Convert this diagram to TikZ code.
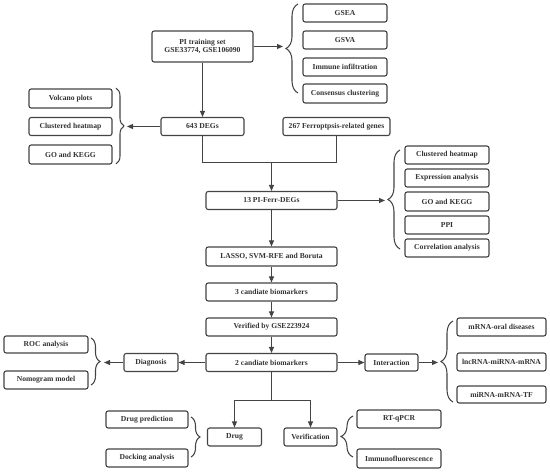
\documentclass[tikz,border=0pt]{standalone}
\usepackage{fontspec}
\setmainfont{Liberation Serif}
\usetikzlibrary{arrows.meta,decorations.pathreplacing,calc}
\definecolor{boxline}{HTML}{444444}
\definecolor{txt}{HTML}{333333}
\begin{document}
\begin{tikzpicture}[x=1pt,y=-1pt,
  bx/.style={draw=boxline,line width=1.1pt,rounded corners=2.2pt,fill=white,inner sep=0pt,
     font=\fontsize{7.6}{8.9}\selectfont\bfseries,text=txt,align=center},
  wd/.style={minimum width=#1},
  ht/.style={minimum height=#1},
  conn/.style={draw=boxline,line width=1.05pt},
  arr/.style={conn,-{Triangle[length=6pt,width=5pt]}},
  brc/.style={draw=boxline,line width=1.05pt,decorate,decoration={brace,amplitude=#1}}
]
\useasboundingbox (0,0) rectangle (550,473);
% top
\node[bx,wd=101,ht=31] (pi) at (202.5,46.5) {PI training set\\GSE33774, GSE106090};
\node[bx,wd=84,ht=18] (gsea) at (345,13) {GSEA};
\node[bx,wd=84,ht=18] (gsva) at (345,40) {GSVA};
\node[bx,wd=84,ht=18] (immune) at (345,67) {Immune infiltration};
\node[bx,wd=84,ht=19] (consensus) at (345,93.5) {Consensus clustering};
\node[bx,wd=83,ht=18] (degs) at (202.5,126.5) {643 DEGs};
\node[bx,wd=107,ht=18] (ferr) at (336.5,126.5) {267 Ferroptpsis-related genes};
\node[bx,wd=83,ht=19] (volcano) at (70.5,98.5) {Volcano plots};
\node[bx,wd=83,ht=18] (lclust) at (70.5,126.5) {Clustered heatmap};
\node[bx,wd=83,ht=19] (lgo) at (70.5,154.5) {GO and KEGG};
% middle
\node[bx,wd=131,ht=18] (pferr) at (271.5,200.5) {13 PI-Ferr-DEGs};
\node[bx,wd=84,ht=18] (rclust) at (447,155) {Clustered heatmap};
\node[bx,wd=84,ht=18] (expr) at (447,178) {Expression analysis};
\node[bx,wd=84,ht=19] (rgo) at (447,201.5) {GO and KEGG};
\node[bx,wd=84,ht=18] (ppi) at (447,225) {PPI};
\node[bx,wd=84,ht=18] (corr) at (447,248) {Correlation analysis};
\node[bx,wd=131,ht=19] (lasso) at (271.5,256.5) {LASSO, SVM-RFE and Boruta};
\node[bx,wd=131,ht=18] (three) at (271.5,292) {3 candiate biomarkers};
\node[bx,wd=131,ht=18] (verified) at (271.5,327) {Verified by GSE223924};
\node[bx,wd=131,ht=18] (two) at (271.5,362.5) {2 candiate biomarkers};
% lower
\node[bx,wd=54,ht=18] (diag) at (151,362.5) {Diagnosis};
\node[bx,wd=84,ht=17] (roc) at (46,344.5) {ROC analysis};
\node[bx,wd=84,ht=18] (nomo) at (46,380) {Nomogram model};
\node[bx,wd=53,ht=17] (inter) at (391.5,362.5) {Interaction};
\node[bx,wd=89,ht=18] (mrna) at (501.5,327) {mRNA-oral diseases};
\node[bx,wd=89,ht=18] (lnc) at (501.5,362) {lncRNA-miRNA-mRNA};
\node[bx,wd=89,ht=17] (mirna) at (501.5,394.5) {miRNA-mRNA-TF};
\node[bx,wd=54,ht=18] (drug) at (234.5,437) {Drug};
\node[bx,wd=53,ht=18] (verif) at (310.5,437) {Verification};
\node[bx,wd=82,ht=17] (drugpred) at (147,419.5) {Drug prediction};
\node[bx,wd=82,ht=18] (docking) at (147,458) {Docking analysis};
\node[bx,wd=84,ht=18] (rtq) at (399,419) {RT-qPCR};
\node[bx,wd=84,ht=19] (immuno) at (399,458.5) {Immunofluorescence};
% braces
\draw[brc=12pt] (298,93) -- (298,4);
\draw[brc=8pt] (116,88) -- (116,164);
\draw[brc=12pt] (400,249) -- (400,150);
\draw[brc=9pt] (91,338) -- (91,385);
\draw[brc=12pt] (453,402) -- (453,321);
\draw[brc=9pt] (191,417) -- (191,457);
\draw[brc=12pt] (353,457) -- (353,416);
% brace tip coordinates
\coordinate (t1) at (283,46.5);
\coordinate (t2) at (127,126.5);
\coordinate (t3) at (385,200.5);
\coordinate (t4) at (104,362.5);
\coordinate (t5) at (438,362.5);
\coordinate (join) at (271.5,162.5);
\coordinate (split) at (271.5,400.5);
% connectors
\draw[arr] (pi.east) -- (t1);
\draw[arr] (pi.south) -- (degs.north);
\draw[arr] (degs.west) -- (t2);
\draw[conn] (degs.south) |- (join) -| (ferr.south);
\draw[arr] (join) -- (pferr.north);
\draw[arr] (pferr.east) -- (t3);
\draw[arr] (pferr.south) -- (lasso.north);
\draw[arr] (lasso.south) -- (three.north);
\draw[arr] (three.south) -- (verified.north);
\draw[arr] (verified.south) -- (two.north);
\draw[arr] (two.west) -- (diag.east);
\draw[arr] (diag.west) -- (t4);
\draw[arr] (two.east) -- (inter.west);
\draw[arr] (inter.east) -- (t5);
\draw[conn] (two.south) -- (split);
\draw[arr] (split) -| (drug.north);
\draw[arr] (split) -| (verif.north);
\end{tikzpicture}
\end{document}
